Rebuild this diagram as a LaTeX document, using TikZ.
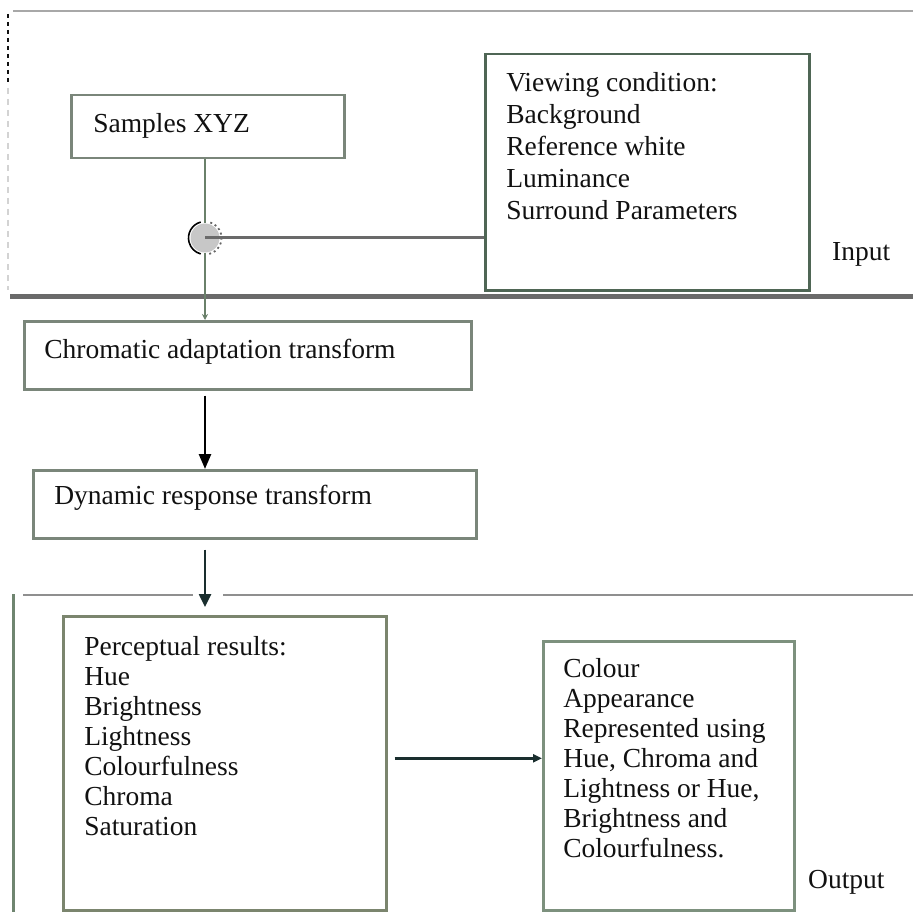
\documentclass[tikz,border=0pt]{standalone}
\usepackage{fontspec}
\setmainfont{Liberation Serif}
\usetikzlibrary{arrows.meta}

\definecolor{framegray}{HTML}{A8A8A8}
\definecolor{sepgray}{HTML}{6A6A6A}
\definecolor{boxgray}{HTML}{7A867A}
\definecolor{viewgreen}{HTML}{4F6655}
\definecolor{sidegreen}{HTML}{6F8570}
\definecolor{linkgreen}{HTML}{6A806A}
\definecolor{linkdark}{HTML}{1A2E2E}
\definecolor{inkblack}{HTML}{111111}

% text block of fixed height, first baseline set by a strut
\newcommand\paneltext[4]{\parbox[c][#2][t]{#1}{\raggedright\rule{0pt}{#3}#4}}

\begin{document}
\begin{tikzpicture}[x=1pt,y=-1pt,
  font=\fontsize{27.5}{30}\selectfont, text=inkblack,
  panel/.style={draw=boxgray, line width=2.5pt, inner ysep=0pt, anchor=north west},
  tag/.style={inner sep=0pt, anchor=base west},
  link/.style={line width=2pt}]
\useasboundingbox (0,0) rectangle (913,912);

% section frames
\draw[framegray, line width=2.5pt] (13,11) -- (913,11);
\draw[inkblack, line width=1.2pt, dash pattern=on 4pt off 4pt] (8,14) -- (8,85);
\draw[framegray!50, line width=1.2pt, dash pattern=on 6pt off 5pt] (8,88) -- (8,290);
\draw[sepgray, line width=5pt] (10,296) -- (913,296);
\draw[framegray!85!black, line width=2.5pt] (23,595) -- (193,595);
\draw[framegray!85!black, line width=2.5pt] (223,595) -- (913,595);
\draw[sidegreen, line width=3pt] (13,594) -- (13,912);

% boxes
\node[panel, inner xsep=22pt] (samples) at (70,94)
  {\paneltext{229pt}{63pt}{37pt}{Samples XYZ}};
\node[panel, draw=viewgreen, inner xsep=21pt] (view) at (484,53)
  {\fontsize{27.5}{32}\selectfont\paneltext{282pt}{236pt}{37pt}{Viewing condition:\\Background\\Reference white\\Luminance\\Surround Parameters}};
\node[panel, inner xsep=20pt] (chrom) at (23,320)
  {\paneltext{407pt}{68pt}{37pt}{Chromatic adaptation transform}};
\node[panel, inner xsep=21pt] (dyn) at (32,469)
  {\paneltext{401pt}{68pt}{34pt}{Dynamic response transform}};
\node[panel, draw=boxgray!90!olive, inner xsep=21pt] (perc) at (62,615)
  {\paneltext{281pt}{294pt}{39pt}{Perceptual results:\\Hue\\Brightness\\Lightness\\Colourfulness\\Chroma\\Saturation}};
\node[panel, draw=sidegreen!90, inner xsep=20pt] (colour) at (542,640)
  {\paneltext{211pt}{269pt}{36pt}{Colour\\Appearance\\Represented using\\Hue, Chroma and\\Lightness or Hue,\\Brightness and\\Colourfulness.}};

% section labels
\node[tag] (input) at (832,260) {Input};
\node[tag] (output) at (808,888) {Output};

% junction where the viewing condition joins the samples
\node[circle, fill=black!22, minimum size=29pt, inner sep=0pt] (junc) at (205,238) {};
\draw[black, line width=1.6pt]
  ([shift={(105:16.5pt)}]junc.center) arc[start angle=105, end angle=255, radius=16.5pt];
\draw[black!60, line width=1.8pt, dash pattern=on 2pt off 3pt]
  ([shift={(-75:16.5pt)}]junc.center) arc[start angle=-75, end angle=75, radius=16.5pt];

% connectors
\draw[link, linkgreen, line width=1.5pt] (junc |- samples.south) -- (junc.north);
\draw[link, sepgray, line width=3pt] (junc -| view.west) -- (junc.center);
\draw[link, linkgreen, -{Stealth[length=6pt,width=6pt]}] (junc.south) -- (junc |- chrom.north);
\draw[link, black, line width=2.5pt, -{Triangle[length=15pt,width=12pt]}]
  ([yshift=-5pt]chrom.south -| junc) -- (dyn.north -| junc);
\draw[link, linkdark, line width=2.5pt, -{Triangle[length=13pt,width=12pt]}]
  ([yshift=-10pt]dyn.south -| junc) -- ([yshift=8pt]perc.north -| junc);
\draw[link, linkdark, line width=3pt, -{Triangle[length=9pt,width=8pt]}]
  ([xshift=7pt,yshift=5pt]perc.east) -- ([yshift=5pt]perc.east -| colour.west);
\end{tikzpicture}
\end{document}
